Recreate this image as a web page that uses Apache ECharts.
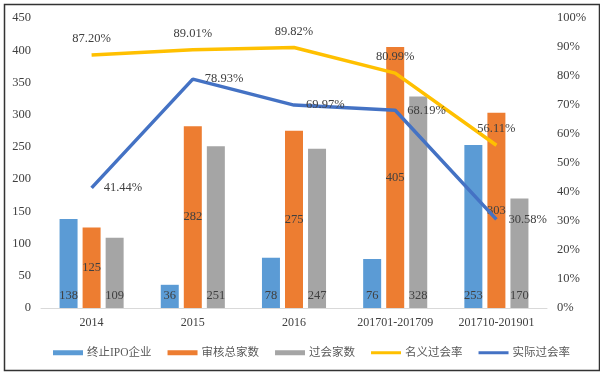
<!DOCTYPE html>
<html>
<head>
<meta charset="utf-8">
<script src="https://cdn.jsdelivr.net/npm/echarts@6/dist/echarts.min.js"></script>
<style>
html,body{margin:0;padding:0;background:#fff;}
#chart{width:600px;height:372px;}
</style>
</head>
<body>
<div id="chart"></div>
<script>
var categories = ['2014', '2015', '2016', '201701-201709', '201710-201901'];
var terminated = [138, 36, 78, 76, 253];
var reviewed = [125, 282, 275, 405, 303];
var passed = [109, 251, 247, 328, 170];
var nominalRate = [87.20, 89.01, 89.82, 80.99, 56.11];
var actualRate = [41.44, 78.93, 69.97, 68.19, 30.58];
var leftTicks = [0, 50, 100, 150, 200, 250, 300, 350, 400, 450];
var rightTicks = [0, 10, 20, 30, 40, 50, 60, 70, 80, 90, 100];

var FONT = '"Liberation Serif", "Noto Sans CJK SC", serif';
var TXT = '#404040';
var LINE_ICON = 'path://M0,0H30V3H0Z';

var chart = echarts.init(document.getElementById('chart'));
chart.setOption({
  animation: false,
  backgroundColor: '#fff',
  textStyle: { fontFamily: FONT },
  graphic: [{
    type: 'rect', left: 2, top: 2,
    shape: { width: 595, height: 366 },
    style: { fill: 'none', stroke: '#333', lineWidth: 1.5 },
    silent: true
  }],
  grid: { left: 41, right: 53, top: 18, bottom: 64 },
  legend: {
    left: 48, top: 342,
    itemWidth: 30, itemHeight: 5, itemGap: 16,
    textStyle: { fontFamily: FONT, fontSize: 11.5, color: '#595959', padding: [0, 0, 0, -1] },
    data: [
      { name: '终止IPO企业', icon: 'rect' },
      { name: '审核总家数', icon: 'rect' },
      { name: '过会家数', icon: 'rect' },
      { name: '名义过会率', icon: LINE_ICON },
      { name: '实际过会率', icon: LINE_ICON }
    ]
  },
  xAxis: {
    type: 'category',
    data: categories,
    axisLine: { lineStyle: { color: '#d9d9d9', width: 1 } },
    axisTick: { show: false },
    axisLabel: { fontFamily: FONT, fontSize: 12, color: TXT, margin: 9 }
  },
  yAxis: [{
    type: 'value', min: 0, max: 450, interval: 50,
    axisLine: { show: false }, axisTick: { show: false },
    splitLine: { show: false },
    axisLabel: { fontFamily: FONT, fontSize: 12.5, color: TXT, margin: 10 }
  }, {
    type: 'value', min: 0, max: 100, interval: 10,
    axisLine: { show: false }, axisTick: { show: false },
    splitLine: { show: false },
    axisLabel: { fontFamily: FONT, fontSize: 12.5, color: TXT, margin: 10, formatter: '{value}%' }
  }],
  series: [{
    name: '终止IPO企业', type: 'bar', data: terminated,
    barWidth: 18, barGap: '28%',
    itemStyle: { color: '#5B9BD5' },
    label: { show: true, position: 'insideBottom', distance: 6, fontFamily: FONT, fontSize: 12.5, color: TXT }
  }, {
    name: '审核总家数', type: 'bar', data: reviewed,
    barWidth: 18, barGap: '28%',
    itemStyle: { color: '#ED7D31' },
    label: { show: true, position: 'inside', fontFamily: FONT, fontSize: 12.5, color: TXT }
  }, {
    name: '过会家数', type: 'bar', data: passed,
    barWidth: 18, barGap: '28%',
    itemStyle: { color: '#A5A5A5' },
    label: { show: true, position: 'insideBottom', distance: 6, fontFamily: FONT, fontSize: 12.5, color: TXT }
  }, {
    name: '名义过会率', type: 'line', yAxisIndex: 1, data: nominalRate,
    symbol: 'circle', symbolSize: 0.1, showSymbol: true,
    lineStyle: { color: '#FFC000', width: 3.5 },
    itemStyle: { color: '#FFC000' },
    label: { show: true, position: 'top', distance: 10, fontFamily: FONT, fontSize: 12.5, color: TXT,
      formatter: function (p) { return p.value.toFixed(2) + '%'; } }
  }, {
    name: '实际过会率', type: 'line', yAxisIndex: 1, data: actualRate,
    symbol: 'circle', symbolSize: 0.1, showSymbol: true,
    lineStyle: { color: '#4472C4', width: 3.5 },
    itemStyle: { color: '#4472C4' },
    label: { show: true, position: 'right', distance: 12, fontFamily: FONT, fontSize: 12.5, color: TXT,
      formatter: function (p) { return p.value.toFixed(2) + '%'; } }
  }]
});
</script>
</body>
</html>
